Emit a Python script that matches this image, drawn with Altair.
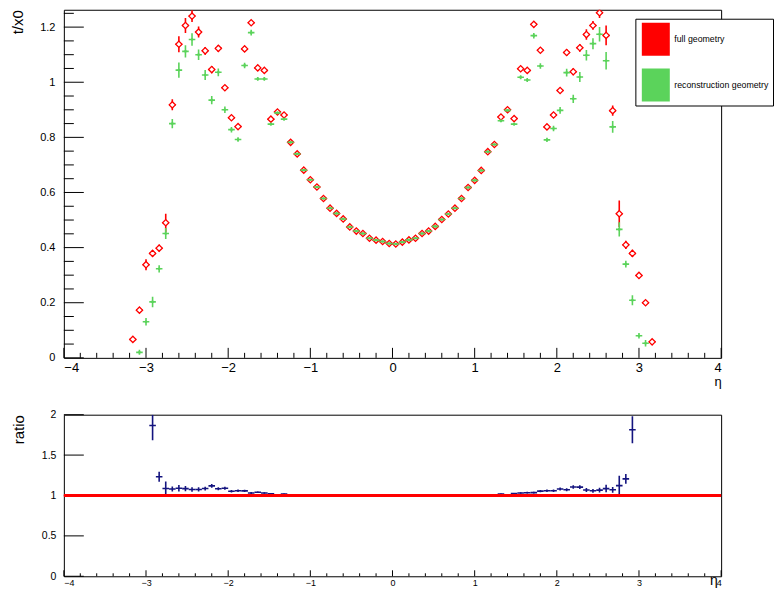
import altair as alt
import pandas as pd
import math

# ---------------- data ----------------
ETA = [-3.16, -3.08, -3.0, -2.92, -2.84, -2.76, -2.68, -2.6, -2.52, -2.44,
       -2.36, -2.28, -2.2, -2.12, -2.04, -1.96, -1.88, -1.8, -1.72, -1.64,
       -1.56, -1.48, -1.4, -1.32, -1.24, -1.16, -1.08, -1.0, -0.92, -0.84,
       -0.76, -0.68, -0.6, -0.52, -0.44, -0.36, -0.28, -0.2, -0.12, -0.04,
       0.04, 0.12, 0.2, 0.28, 0.36, 0.44, 0.52, 0.6, 0.68, 0.76,
       0.84, 0.92, 1.0, 1.08, 1.16, 1.24, 1.32, 1.4, 1.48, 1.56,
       1.64, 1.72, 1.8, 1.88, 1.96, 2.04, 2.12, 2.2, 2.28, 2.36,
       2.44, 2.52, 2.6, 2.68, 2.76, 2.84, 2.92, 3.0, 3.08, 3.16]

FULL = [0.067, 0.173, 0.338, 0.379, 0.398, 0.490, 0.918, 1.138, 1.206, 1.240,
        1.182, 1.114, 1.046, 1.123, 0.980, 0.871, 0.839, 1.121, 1.216, 1.052,
        1.043, 0.866, 0.892, 0.881, 0.782, 0.740, 0.681, 0.646, 0.620, 0.578,
        0.543, 0.524, 0.504, 0.475, 0.460, 0.451, 0.434, 0.427, 0.422, 0.415,
        0.413, 0.420, 0.428, 0.434, 0.451, 0.460, 0.477, 0.502, 0.522, 0.543,
        0.578, 0.618, 0.644, 0.680, 0.748, 0.774, 0.874, 0.900, 0.868, 1.049,
        1.043, 1.210, 1.116, 0.838, 0.881, 0.970, 1.108, 1.038, 1.125, 1.173,
        1.206, 1.252, 1.170, 0.897, 0.523, 0.410, 0.379, 0.299, 0.200, 0.058]

RECO = [None, 0.020, 0.131, 0.203, 0.323, 0.451, 0.850, 1.044, 1.112, 1.155,
        1.100, 1.026, 0.935, 1.036, 0.900, 0.828, 0.792, 1.061, 1.180, 1.012,
        1.012, 0.848, 0.889, 0.866, 0.782, 0.740, 0.681, 0.646, 0.620, 0.578,
        0.543, 0.524, 0.504, 0.475, 0.460, 0.451, 0.434, 0.427, 0.422, 0.415,
        0.413, 0.420, 0.428, 0.434, 0.451, 0.460, 0.477, 0.502, 0.522, 0.543,
        0.578, 0.618, 0.644, 0.680, 0.748, 0.774, 0.860, 0.898, 0.848, 1.018,
        1.008, 1.169, 1.059, 0.791, 0.832, 0.898, 1.035, 0.940, 1.019, 1.098,
        1.140, 1.174, 1.078, 0.838, 0.466, 0.340, 0.209, 0.080, 0.053, None]

FULL_ERR = [0.007, 0.008, 0.020, 0.011, 0.012, 0.033, 0.020, 0.029, 0.027, 0.021,
            0.020, 0.014, 0.013, 0.012, 0.010, 0.008, 0.008, 0.010, 0.009, 0.007,
            0.007, 0.005, 0.005, 0.005, 0.003, 0.003, 0.003, 0.003, 0.003, 0.003,
            0.003, 0.003, 0.003, 0.003, 0.003, 0.003, 0.003, 0.003, 0.003, 0.003,
            0.003, 0.003, 0.003, 0.003, 0.003, 0.003, 0.003, 0.003, 0.003, 0.003,
            0.003, 0.003, 0.003, 0.003, 0.003, 0.003, 0.005, 0.005, 0.005, 0.007,
            0.007, 0.009, 0.010, 0.008, 0.008, 0.010, 0.012, 0.013, 0.014, 0.019,
            0.016, 0.019, 0.036, 0.019, 0.048, 0.015, 0.013, 0.010, 0.008, 0.007]

RECO_ERR = [None, 0.009, 0.014, 0.019, 0.013, 0.020, 0.017, 0.028, 0.022, 0.023,
            0.019, 0.018, 0.015, 0.014, 0.012, 0.010, 0.008, 0.010, 0.010, 0.007,
            0.007, 0.005, 0.005, 0.005, 0.003, 0.003, 0.003, 0.003, 0.003, 0.003,
            0.003, 0.003, 0.003, 0.003, 0.003, 0.003, 0.003, 0.003, 0.003, 0.003,
            0.003, 0.003, 0.003, 0.003, 0.003, 0.003, 0.003, 0.003, 0.003, 0.003,
            0.003, 0.003, 0.003, 0.003, 0.003, 0.003, 0.005, 0.005, 0.005, 0.007,
            0.007, 0.010, 0.010, 0.008, 0.010, 0.012, 0.014, 0.015, 0.018, 0.019,
            0.020, 0.026, 0.032, 0.021, 0.026, 0.012, 0.018, 0.010, 0.012, None]

HALF_BIN = 0.04
SERIES = ["full geometry", "reconstruction geometry"]
COLORS = ["#ff0000", "#5bd35b"]
RATIO_COLOR = "#14147f"

X_MAJOR = [-4, -3, -2, -1, 0, 1, 2, 3, 4]
X_MINOR = [round(-4 + 0.2 * i, 1) for i in range(41) if i % 5]
Y_MAJOR = [0, 0.2, 0.4, 0.6, 0.8, 1.0, 1.2]
Y_MINOR = [round(0.05 * i, 2) for i in range(26) if i % 4]
R_MAJOR = [0, 0.5, 1.0, 1.5, 2.0]
R_LINE = [1.0]

Y_TOP = 1.263
R_TOP = 2.0
W, H1, H2 = 659, 349, 162
FONT = "Liberation Sans"


def frame(vals, errs, top):
    rows = []
    for e, v, s in zip(ETA, vals, errs):
        if v is None:
            continue
        rows.append(dict(eta=e, val=v, lo=max(v - s, 0), hi=min(v + s, top),
                         xlo=e - HALF_BIN, xhi=e + HALF_BIN))
    return pd.DataFrame(rows)


full_df = frame(FULL, FULL_ERR, Y_TOP)
reco_df = frame(RECO, RECO_ERR, Y_TOP)

ratio_vals, ratio_errs = [], []
for f, g, ef, eg in zip(FULL, RECO, FULL_ERR, RECO_ERR):
    if f is None or g is None or f / g > R_TOP:
        ratio_vals.append(None)
        ratio_errs.append(None)
        continue
    r = f / g
    ratio_vals.append(r)
    ratio_errs.append(r * math.sqrt((ef / f) ** 2 + (eg / g) ** 2))
ratio_df = frame(ratio_vals, ratio_errs, R_TOP)

# ---------------- scales / axes ----------------
xs = alt.Scale(domain=[-4, 4], nice=False, zero=False)
ys1 = alt.Scale(domain=[0, Y_TOP], nice=False, zero=False)
ys2 = alt.Scale(domain=[0, R_TOP], nice=False, zero=False)

ax_x1 = alt.Axis(values=X_MAJOR, format="d", ticks=False, domain=False, grid=False,
                 labelFontSize=13, labelPadding=4, labelFont=FONT, labelColor="black",
                 title="η", titleFontSize=13, titleFont=FONT, titleFontWeight="normal",
                 titleColor="black", titleX=W, titleY=28, titleAlign="right",
                 titleBaseline="alphabetic")
ax_y1 = alt.Axis(values=Y_MAJOR, format="~g", ticks=False, domain=False, grid=False,
                 labelFontSize=11, labelPadding=9, labelFont=FONT, labelColor="black",
                 title="t/x0", titleFontSize=15, titleFont=FONT, titleFontWeight="normal",
                 titleColor="black", titleX=-41, titleY=0, titleAngle=270,
                 titleAlign="right", titleBaseline="alphabetic")
ax_x2 = alt.Axis(values=X_MAJOR, format="d", ticks=False, domain=False, grid=False,
                 labelFontSize=9, labelPadding=2, labelFont=FONT, labelColor="black",
                 title="η", titleFontSize=14, titleFont=FONT, titleFontWeight="normal",
                 titleColor="black", titleX=W - 4, titleY=8, titleAlign="right",
                 titleBaseline="alphabetic")
ax_y2 = alt.Axis(values=R_MAJOR, format="~g", ticks=False, domain=False, grid=False,
                 labelFontSize=10.5, labelPadding=8, labelFont=FONT, labelColor="black",
                 title="ratio", titleFontSize=15, titleFont=FONT, titleFontWeight="normal",
                 titleColor="black", titleX=-40, titleY=0, titleAngle=270,
                 titleAlign="right", titleBaseline="alphabetic")


def X(field, ax):
    return alt.X(field, type="quantitative", scale=xs, axis=ax, title=ax.title)


def Y(field, ys, ax):
    return alt.Y(field, type="quantitative", scale=ys, axis=ax, title=ax.title)


def series_layers(df, color, ys, ax_x, ax_y, marker):
    base = alt.Chart(df)
    hbar = base.mark_rule(color=color, strokeWidth=1.6, clip=True).encode(
        x=X("xlo", ax_x), x2="xhi:Q", y=Y("val", ys, ax_y))
    vbar = base.mark_rule(color=color, strokeWidth=1.6, clip=True).encode(
        x=X("eta", ax_x), y=Y("lo", ys, ax_y), y2="hi:Q")
    out = [hbar, vbar]
    if marker == "diamond":
        out.append(base.mark_point(shape="diamond", filled=False, fill="white",
                                   fillOpacity=1, stroke=color, strokeWidth=1.3,
                                   size=40, opacity=1, clip=True).encode(
            x=X("eta", ax_x), y=Y("val", ys, ax_y)))
    elif marker == "dot":
        out.append(base.mark_point(shape="circle", filled=True, color=color,
                                   size=7, opacity=1, clip=True).encode(
            x=X("eta", ax_x), y=Y("val", ys, ax_y)))
    return out


def xticks(vals, h, length, ax):
    return alt.Chart(pd.DataFrame({"t": vals})).mark_rule(color="black", strokeWidth=1).encode(
        x=X("t", ax), y=alt.value(h), y2=alt.value(h - length))


def yticks(vals, ys, length, ax):
    return alt.Chart(pd.DataFrame({"t": vals})).mark_rule(color="black", strokeWidth=1).encode(
        y=Y("t", ys, ax), x=alt.value(0), x2=alt.value(length))


SWATCH = "M-0.85,-1H0.85V1H-0.85Z"
legend_layer = alt.Chart(pd.DataFrame({"series": pd.Series([], dtype=str)})).mark_point(
    shape=SWATCH, filled=True, opacity=1).encode(
    color=alt.Color("series:N", scale=alt.Scale(domain=SERIES, range=COLORS),
                    legend=alt.Legend(title=None, orient="none", legendX=573, legendY=9,
                                      fillColor="white", strokeColor="black",
                                      padding=4, symbolType=SWATCH, symbolSize=1089,
                                      symbolStrokeWidth=0, symbolOpacity=1,
                                      labelFontSize=8.8, labelOffset=2, rowPadding=13,
                                      labelFont=FONT, labelColor="black", labelLimit=300)))

top_layers = (
    [xticks(X_MAJOR, H1, 10, ax_x1), xticks(X_MINOR, H1, 5, ax_x1),
     yticks(Y_MAJOR, ys1, 20, ax_y1), yticks(Y_MINOR, ys1, 10, ax_y1)]
    + series_layers(full_df, COLORS[0], ys1, ax_x1, ax_y1, "diamond")
    + series_layers(reco_df, COLORS[1], ys1, ax_x1, ax_y1, "dot")
    + [legend_layer]
)
top = alt.layer(*top_layers).properties(width=W, height=H1)

red_line = alt.Chart(pd.DataFrame({"r": R_LINE})).mark_rule(color="#ff0000", strokeWidth=3).encode(
    y=Y("r", ys2, ax_y2), x=alt.value(0), x2=alt.value(W))

bottom_layers = (
    [xticks(X_MAJOR, H2, 6, ax_x2), xticks(X_MINOR, H2, 3, ax_x2),
     yticks(R_MAJOR, ys2, 20, ax_y2)]
    + series_layers(ratio_df, RATIO_COLOR, ys2, ax_x2, ax_y2, None)
    + [red_line]
)
bottom = alt.layer(*bottom_layers).properties(width=W, height=H2)

chart = alt.vconcat(top, bottom, spacing=57, bounds="flush").properties(
    padding={"left": 2, "top": 0, "right": 0, "bottom": 0}
).configure(font=FONT).configure_view(stroke="black", strokeWidth=1)

chart.save("out.html", embed_options={"renderer": "svg", "actions": False})
